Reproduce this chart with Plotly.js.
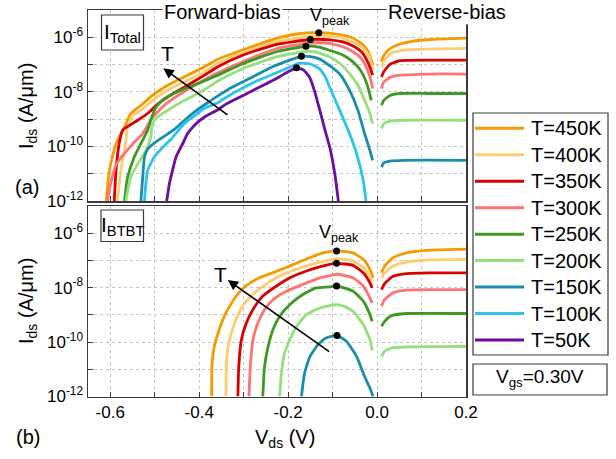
<!DOCTYPE html>
<html>
<head>
<meta charset="utf-8">
<script src="https://cdn.plot.ly/plotly-3.0.1.min.js"></script>
<style>
  html, body { margin: 0; padding: 0; background: #ffffff; }
  #chart { width: 616px; height: 459px; }
</style>
</head>
<body>
<div id="chart"></div>
<script>
// Temperatures, legend labels and line colours (hot to cold)
const temps  = ['T=450K', 'T=400K', 'T=350K', 'T=300K', 'T=250K', 'T=200K', 'T=150K', 'T=100K', 'T=50K'];
const colors = ['#F59B00', '#FFCC70', '#D90000', '#FF7373', '#3C9A24', '#96E07C', '#1A8DAB', '#2CC3EE', '#6B0DA0'];

// Axis ticks
const xTickVals = [-0.6, -0.5, -0.4, -0.3, -0.2, -0.1, 0.0, 0.1, 0.2];
const xTickText = ['-0.6', '', '-0.4', '', '-0.2', '', '0.0', '', '0.2'];
const yTickVals = [1e-12, 1e-11, 1e-10, 1e-9, 1e-8, 1e-7, 1e-6, 1e-5];
const yTickText = ['10<sup>-12</sup>', '', '10<sup>-10</sup>', '', '10<sup>-8</sup>', '', '10<sup>-6</sup>', ''];

// (a) total drain current I_ds (A/um) vs V_ds (V); null separates forward and reverse bias
const vTot450 = [-0.609,-0.602,-0.587,-0.568,-0.554,-0.531,-0.505,-0.471,-0.426,-0.388,-0.358,-0.301,-0.226,-0.181,-0.131,-0.084,-0.062,-0.046,-0.031,-0.020,-0.013,-0.009,null,0.010,0.0135,0.025,0.044,0.081,0.119,0.2];
const iTot450 = [1.0e-12,1.32e-11,1.26e-10,5.1e-10,1.58e-9,3.2e-9,7.4e-9,1.74e-8,4.1e-8,8.3e-8,1.58e-7,3.5e-7,9.1e-7,1.32e-6,1.48e-6,1.26e-6,1.05e-6,7.9e-7,5.1e-7,2.95e-7,1.45e-7,9.5e-8,null,1.26e-7,1.9e-7,3.4e-7,5.1e-7,7.2e-7,8.3e-7,9.3e-7];

const vTot400 = [-0.584,-0.576,-0.568,-0.561,-0.550,-0.531,-0.505,-0.471,-0.426,-0.388,-0.358,-0.301,-0.226,-0.151,-0.120,-0.084,-0.069,-0.046,-0.031,-0.020,-0.013,-0.009,null,0.010,0.017,0.032,0.059,0.119,0.2];
const iTot400 = [1.0e-12,1.32e-11,7.1e-11,5.1e-10,1.38e-9,2.1e-9,4.9e-9,1.15e-8,2.7e-8,5.4e-8,1.1e-7,2.7e-7,6.9e-7,1.1e-6,1.12e-6,1.02e-6,8.3e-7,5.9e-7,3.9e-7,2.24e-7,1.1e-7,6.2e-8,null,8.3e-8,1.45e-7,2.6e-7,3.4e-7,3.7e-7,3.9e-7];

const vTot350 = [-0.591,-0.587,-0.580,-0.572,-0.557,-0.538,-0.512,-0.497,-0.471,-0.426,-0.388,-0.358,-0.301,-0.226,-0.150,-0.106,-0.077,-0.054,-0.035,-0.023,-0.015,-0.010,null,0.010,0.015,0.029,0.051,0.119,0.2];
const iTot350 = [1.0e-12,1.32e-11,1.26e-10,3.9e-10,5.9e-10,9.1e-10,1.82e-9,3.2e-9,6.5e-9,1.74e-8,4.1e-8,8.3e-8,2.24e-7,5.5e-7,8.3e-7,8.1e-7,6.8e-7,4.8e-7,2.95e-7,1.45e-7,7.2e-8,4.1e-8,null,3.5e-8,5.4e-8,1.02e-7,1.38e-7,1.45e-7,1.45e-7];

const vTot300 = [-0.606,-0.601,-0.586,-0.565,-0.549,-0.527,-0.504,-0.474,-0.429,-0.369,-0.294,-0.226,-0.159,-0.130,-0.106,-0.077,-0.054,-0.035,-0.023,-0.015,-0.010,null,0.010,0.015,0.029,0.051,0.119,0.2];
const iTot300 = [1.0e-12,3.2e-12,2.3e-11,6.3e-11,1.26e-10,2.95e-10,1.2e-9,3.7e-9,1.15e-8,4.1e-8,1.45e-7,3.8e-7,6.0e-7,6.3e-7,5.9e-7,4.5e-7,2.95e-7,1.66e-7,7.2e-8,3.1e-8,1.32e-8,null,1.32e-8,2.3e-8,3.4e-8,4.1e-8,4.5e-8,4.5e-8];

const vTot250 = [-0.568,-0.561,-0.546,-0.531,-0.516,-0.509,-0.497,-0.478,-0.441,-0.403,-0.358,-0.301,-0.226,-0.160,-0.130,-0.106,-0.077,-0.054,-0.035,-0.023,-0.013,null,0.010,0.015,0.029,0.051,0.119,0.2];
const iTot250 = [1.0e-12,7.4e-12,4.1e-11,1.26e-10,3.9e-10,9.1e-10,2.8e-9,5.6e-9,1.15e-8,2.0e-8,4.1e-8,1.1e-7,2.95e-7,4.7e-7,4.4e-7,3.3e-7,2.24e-7,1.26e-7,5.4e-8,2.0e-8,4.9e-9,null,3.2e-9,4.9e-9,7.4e-9,8.7e-9,8.7e-9,8.7e-9];

const vTot200 = [-0.565,-0.554,-0.538,-0.520,-0.509,-0.505,-0.494,-0.471,-0.433,-0.396,-0.358,-0.301,-0.226,-0.165,-0.140,-0.106,-0.084,-0.062,-0.043,-0.028,-0.016,-0.010,null,0.010,0.015,0.029,0.059,0.2];
const iTot200 = [1.0e-12,7.4e-12,2.3e-11,7.1e-11,2.2e-10,6.8e-10,1.2e-9,2.1e-9,4.9e-9,1.0e-8,2.5e-8,7.2e-8,1.9e-7,3.0e-7,2.95e-7,1.9e-7,1.12e-7,4.7e-8,1.74e-8,4.9e-9,1.58e-9,6.8e-10,null,4.5e-10,6.8e-10,8.5e-10,9.1e-10,9.1e-10];

const vTot150 = [-0.531,-0.527,-0.523,-0.516,-0.501,-0.478,-0.456,-0.433,-0.411,-0.381,-0.358,-0.325,-0.280,-0.235,-0.190,-0.170,-0.150,-0.129,-0.106,-0.084,-0.062,-0.043,-0.028,-0.016,-0.010,null,0.010,0.015,0.029,0.059,0.2];
const iTot150 = [1.0e-12,7.4e-12,4.1e-11,7.9e-11,1.32e-10,2.4e-10,4.2e-10,9.1e-10,1.82e-9,4.0e-9,7.1e-9,1.51e-8,3.5e-8,8.3e-8,1.58e-7,2.0e-7,1.95e-7,1.58e-7,8.9e-8,4.5e-8,1.15e-8,2.1e-9,2.95e-10,7.1e-11,3.1e-11,null,1.74e-11,2.5e-11,2.9e-11,3.1e-11,3.1e-11];

const vTot100 = [-0.523,-0.520,-0.516,-0.501,-0.482,-0.464,-0.449,-0.433,-0.411,-0.388,-0.358,-0.338,-0.301,-0.264,-0.226,-0.189,-0.175,-0.150,-0.130,-0.115,-0.106,-0.084,-0.062,-0.046,-0.031,-0.025];
const iTot100 = [1.0e-12,4.3e-12,1.32e-11,4.1e-11,9.3e-11,1.8e-10,3.5e-10,7.0e-10,1.3e-9,2.5e-9,4.0e-9,6.5e-9,1.41e-8,2.8e-8,5.0e-8,9.1e-8,1.12e-7,1.05e-7,7.1e-8,3.2e-8,1.41e-8,2.1e-9,2.95e-10,5.4e-11,5.6e-12,1.0e-12];

const vTot50 = [-0.473,-0.467,-0.460,-0.452,-0.437,-0.426,-0.411,-0.388,-0.358,-0.338,-0.301,-0.264,-0.226,-0.196,-0.181,-0.165,-0.152,-0.140,-0.129,-0.118,-0.106,-0.095,-0.087];
const iTot50 = [1.0e-12,4.3e-12,1.32e-11,4.1e-11,1.26e-10,2.95e-10,5.9e-10,1.2e-9,2.2e-9,3.7e-9,7.4e-9,1.51e-8,3.1e-8,5.9e-8,7.6e-8,6.3e-8,3.5e-8,1.0e-8,2.2e-9,4.5e-10,8.9e-11,1.0e-11,1.0e-12];

// (b) band-to-band tunnelling component
const vBtbt450 = [-0.372,-0.371,-0.366,-0.355,-0.340,-0.317,-0.295,-0.265,-0.235,-0.197,-0.160,-0.129,-0.107,-0.091,-0.054,-0.031,-0.016,-0.009,null,0.010,0.017,0.036,0.066,0.119,0.2];
const iBtbt450 = [1.0e-12,1.7e-11,6.9e-11,2.9e-10,1.17e-9,4.9e-9,1.15e-8,2.3e-8,3.5e-8,6.2e-8,1.1e-7,1.74e-7,2.1e-7,2.24e-7,1.9e-7,1.1e-7,4.7e-8,2.3e-8,null,3.5e-8,6.2e-8,1.26e-7,1.9e-7,2.4e-7,2.6e-7];

const vBtbt400 = [-0.340,-0.339,-0.335,-0.328,-0.317,-0.302,-0.280,-0.250,-0.220,-0.182,-0.137,-0.107,-0.090,-0.054,-0.031,-0.016,-0.011,null,0.010,0.017,0.036,0.066,0.119,0.2];
const iBtbt400 = [1.0e-12,1.26e-11,6.9e-11,2.1e-10,6.8e-10,2.1e-9,5.6e-9,1.32e-8,2.6e-8,4.7e-8,7.9e-8,1.05e-7,1.17e-7,9.5e-8,5.4e-8,2.6e-8,1.74e-8,null,2.3e-8,3.5e-8,6.2e-8,8.7e-8,1.05e-7,1.1e-7];

const vBtbt350 = [-0.313,-0.311,-0.305,-0.294,-0.279,-0.257,-0.226,-0.196,-0.159,-0.107,-0.091,-0.054,-0.031,-0.016,-0.011,null,0.010,0.017,0.036,0.066,0.119,0.2];
const iBtbt350 = [1.0e-12,1.26e-11,1.23e-10,5.0e-10,1.58e-9,4.9e-9,1.15e-8,2.3e-8,4.1e-8,7.2e-8,7.8e-8,6.6e-8,3.5e-8,1.51e-8,9.8e-9,null,8.5e-9,1.41e-8,2.6e-8,3.3e-8,3.5e-8,3.5e-8];

const vBtbt300 = [-0.288,-0.285,-0.279,-0.268,-0.253,-0.234,-0.204,-0.167,-0.129,-0.107,-0.090,-0.054,-0.031,-0.016,-0.011,null,0.010,0.017,0.036,0.066,0.119,0.2];
const iBtbt300 = [1.0e-12,1.26e-11,1.23e-10,5.0e-10,1.58e-9,3.6e-9,7.4e-9,1.32e-8,2.3e-8,2.75e-8,3.1e-8,2.3e-8,1.15e-8,4.2e-9,2.75e-9,null,2.1e-9,3.6e-9,6.5e-9,8.1e-9,8.5e-9,8.5e-9];

const vBtbt250 = [-0.257,-0.253,-0.245,-0.234,-0.219,-0.196,-0.167,-0.137,-0.107,-0.091,-0.054,-0.031,-0.016,-0.011,null,0.010,0.017,0.032,0.066,0.2];
const iBtbt250 = [1.0e-12,1.26e-11,6.9e-11,2.9e-10,8.9e-10,2.4e-9,5.6e-9,9.8e-9,1.07e-8,1.15e-8,7.4e-9,3.2e-9,1.02e-9,5.8e-10,null,3.8e-10,5.8e-10,9.3e-10,1.12e-9,1.12e-9];

const vBtbt200 = [-0.219,-0.215,-0.208,-0.196,-0.181,-0.159,-0.129,-0.107,-0.093,-0.075,-0.054,-0.031,-0.016,-0.011,null,0.010,0.017,0.032,0.066,0.2];
const iBtbt200 = [1.0e-12,7.2e-12,3.9e-11,1.23e-10,3.8e-10,1.02e-9,1.78e-9,2.2e-9,2.35e-9,2.1e-9,1.35e-9,4.4e-10,1.23e-10,4.9e-11,null,2.95e-11,4.6e-11,6.0e-11,6.6e-11,6.9e-11];

const vBtbt150 = [-0.170,-0.163,-0.151,-0.133,-0.115,-0.090,-0.069,-0.046,-0.028,-0.016,-0.009];
const iBtbt150 = [1.0e-12,7.2e-12,2.95e-11,7.9e-11,1.41e-10,1.74e-10,1.07e-10,2.95e-11,5.4e-12,2.0e-12,1.0e-12];

// Peak-current points (V_peak) marked on the curves
const peakTotV = [-0.131, -0.150, -0.160, -0.170, -0.181];
const peakTotI = [1.48e-6, 8.3e-7, 4.7e-7, 2.0e-7, 7.6e-8];
const peakBtbtV = [-0.091, -0.091, -0.091, -0.090];
const peakBtbtI = [2.24e-7, 7.8e-8, 1.15e-8, 1.74e-10];

// ---------------------------------------------------------------------------
const FONT = 'Liberation Sans, Arial, Helvetica, sans-serif';
const W = 616, H = 459;
const px = x => x / W;          // pixel column -> paper x
const py = y => 1 - y / H;      // pixel row    -> paper y

const totalSeries = [[vTot450, iTot450], [vTot400, iTot400], [vTot350, iTot350], [vTot300, iTot300],
                     [vTot250, iTot250], [vTot200, iTot200], [vTot150, iTot150], [vTot100, iTot100], [vTot50, iTot50]];
const btbtSeries  = [[vBtbt450, iBtbt450], [vBtbt400, iBtbt400], [vBtbt350, iBtbt350], [vBtbt300, iBtbt300],
                     [vBtbt250, iBtbt250], [vBtbt200, iBtbt200], [vBtbt150, iBtbt150]];

const traces = [];
const lineStyle = c => ({ color: c, width: 2.8, shape: 'spline', smoothing: 0.5 });

totalSeries.forEach(([v, i], k) => {
  traces.push({ x: v, y: i, xaxis: 'x2', yaxis: 'y2', mode: 'lines', connectgaps: false,
                line: lineStyle(colors[k]), name: temps[k], showlegend: false, hoverinfo: 'skip' });
});
btbtSeries.forEach(([v, i], k) => {
  traces.push({ x: v, y: i, xaxis: 'x', yaxis: 'y', mode: 'lines', connectgaps: false,
                line: lineStyle(colors[k]), name: temps[k], showlegend: false, hoverinfo: 'skip' });
});
traces.push({ x: peakTotV, y: peakTotI, xaxis: 'x2', yaxis: 'y2', mode: 'markers',
              marker: { color: '#000', size: 7 }, showlegend: false, hoverinfo: 'skip' });
traces.push({ x: peakBtbtV, y: peakBtbtI, xaxis: 'x', yaxis: 'y', mode: 'markers',
              marker: { color: '#000', size: 7 }, showlegend: false, hoverinfo: 'skip' });

const frame = '#3a3a3a';
const axisCommon = {
  showline: true, linecolor: frame, linewidth: 1.5, mirror: true,
  ticks: 'inside', ticklen: 5, tickwidth: 1, tickcolor: frame,
  showgrid: true, gridcolor: '#c4c4c4', griddash: 'dot', gridwidth: 1,
  zeroline: false, tickfont: { family: FONT, size: 17, color: '#000' }
};
const xDomain = [px(88), px(466)];

const shapes = [];
const annotations = [];
const txt = (text, x, y, size, extra) => Object.assign({
  text: text, x: px(x), y: py(y), xref: 'paper', yref: 'paper', showarrow: false,
  xanchor: 'center', yanchor: 'middle', font: { family: FONT, size: size, color: '#000' }
}, extra || {});

// Panel headings on the top frame
annotations.push(txt('Forward-bias', 222, 12, 20, { bgcolor: '#ffffff' }));
annotations.push(txt('Reverse-bias', 447, 12, 20, { bgcolor: '#ffffff' }));
annotations.push(txt('V<sub>peak</sub>', 330, 16, 18));
annotations.push(txt('V<sub>peak</sub>', 339, 233, 18));

// Component boxes
shapes.push({ type: 'rect', xref: 'paper', yref: 'paper', x0: px(101.5), x1: px(143.5), y0: py(50), y1: py(15),
              line: { color: frame, width: 1.2 }, fillcolor: '#ffffff' });
shapes.push({ type: 'rect', xref: 'paper', yref: 'paper', x0: px(101), x1: px(143.5), y0: py(241.5), y1: py(210),
              line: { color: frame, width: 1.2 }, fillcolor: '#ffffff' });
annotations.push(txt('I<sub>Total</sub>', 122.5, 33, 21));
annotations.push(txt('I<sub>BTBT</sub>', 122, 226, 21));

// Temperature arrows
annotations.push({ x: px(163.3), y: py(68.3), xref: 'paper', yref: 'paper', text: '', showarrow: true,
                   ax: 65.7, ay: 47.7, arrowhead: 2, arrowsize: 1.3, arrowwidth: 1.6, arrowcolor: '#000' });
annotations.push({ x: px(227.7), y: py(280), xref: 'paper', yref: 'paper', text: '', showarrow: true,
                   ax: 103, ay: 72.7, arrowhead: 2, arrowsize: 1.3, arrowwidth: 1.6, arrowcolor: '#000' });
annotations.push(txt('T', 167.5, 53.5, 21));
annotations.push(txt('T', 220, 274.5, 21));

// Panel letters and axis titles
annotations.push(txt('(a)', 27, 187, 20));
annotations.push(txt('(b)', 28, 437, 20));
annotations.push(txt('I<sub>ds</sub> (A/μm)', 27, 106, 20, { textangle: -90 }));
annotations.push(txt('I<sub>ds</sub> (A/μm)', 27, 301, 20, { textangle: -90 }));
annotations.push(txt('V<sub>ds</sub> (V)', 285, 438, 20));

// Temperature legend
shapes.push({ type: 'rect', xref: 'paper', yref: 'paper', x0: px(473), x1: px(608), y0: py(355), y1: py(113),
              line: { color: frame, width: 1.2 }, fillcolor: 'rgba(0,0,0,0)' });
temps.forEach((t, k) => {
  const yy = 128.3 + k * 26.46;
  shapes.push({ type: 'line', xref: 'paper', yref: 'paper', x0: px(475), x1: px(524), y0: py(yy), y1: py(yy),
                line: { color: colors[k], width: 3 } });
  annotations.push(txt(t, 529, yy, 20, { xanchor: 'left' }));
});

// Gate bias box
shapes.push({ type: 'rect', xref: 'paper', yref: 'paper', x0: px(473), x1: px(607), y0: py(395), y1: py(364),
              line: { color: frame, width: 1.2 }, fillcolor: 'rgba(0,0,0,0)' });
annotations.push(txt('V<sub>gs</sub>=0.30V', 540, 378, 19));

const layout = {
  width: W, height: H, autosize: false,
  margin: { l: 0, r: 0, t: 0, b: 0 },
  paper_bgcolor: '#ffffff', plot_bgcolor: '#ffffff',
  showlegend: false,
  font: { family: FONT, color: '#000' },
  xaxis: Object.assign({}, axisCommon, { domain: xDomain, range: [-0.65, 0.2], anchor: 'y',
                                         tickmode: 'array', tickvals: xTickVals, ticktext: xTickText }),
  xaxis2: Object.assign({}, axisCommon, { domain: xDomain, range: [-0.65, 0.2], anchor: 'y2',
                                          tickmode: 'array', tickvals: xTickVals, showticklabels: false }),
  yaxis: Object.assign({}, axisCommon, { type: 'log', range: [-12, -5], domain: [py(396.5), py(206)], anchor: 'x',
                                         tickmode: 'array', tickvals: yTickVals, ticktext: yTickText }),
  yaxis2: Object.assign({}, axisCommon, { type: 'log', range: [-12, -5], domain: [py(201), py(10)], anchor: 'x2',
                                          tickmode: 'array', tickvals: yTickVals, ticktext: yTickText }),
  shapes: shapes,
  annotations: annotations
};

Plotly.newPlot('chart', traces, layout, { displayModeBar: false, staticPlot: true });
</script>
</body>
</html>
